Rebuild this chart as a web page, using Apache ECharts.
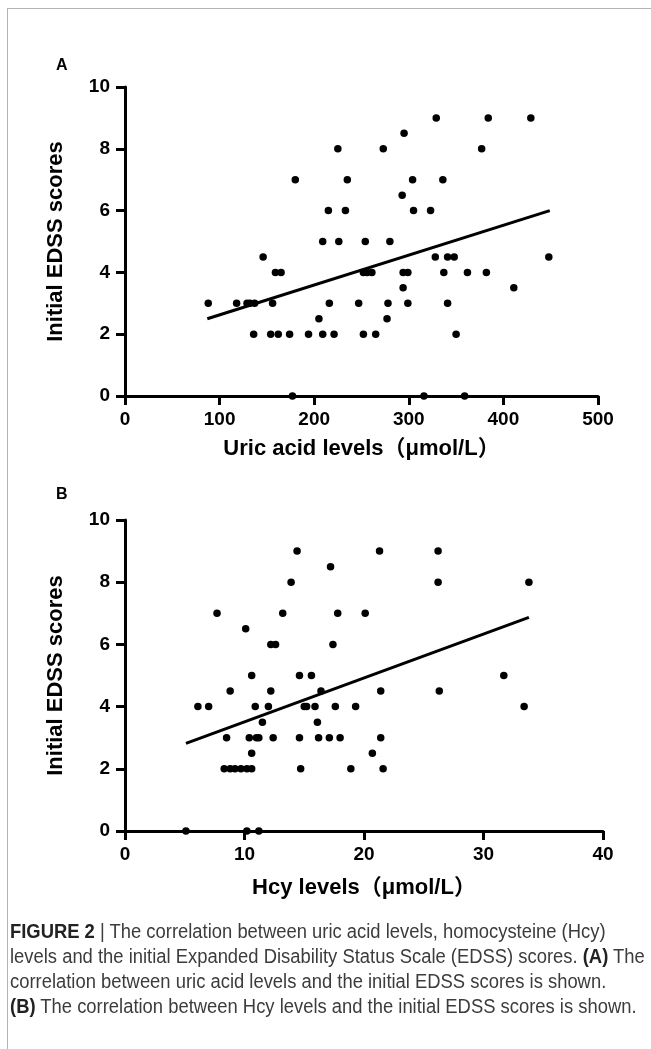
<!DOCTYPE html>
<html>
<head>
<meta charset="utf-8">
<script src="https://cdn.jsdelivr.net/npm/echarts@6/dist/echarts.min.js"></script>
<style>
  html, body { margin: 0; padding: 0; background: #fff; }
  #page { position: relative; width: 651px; height: 1049px; overflow: hidden; }
  #chart { position: absolute; left: 0; top: 0; width: 651px; height: 1049px; }
  .frame-top { position: absolute; left: 7px; top: 8px; width: 644px; height: 0; border-top: 1.5px solid #b4b4b4; }
  .frame-left { position: absolute; left: 7px; top: 8px; width: 0; height: 1041px; border-left: 1.5px solid #b4b4b4; }
  #caption {
    position: absolute; left: 10px; top: 919px;
    font-family: "Liberation Sans", Arial, sans-serif;
    font-size: 20px; line-height: 25px; color: #3c3c3c; white-space: nowrap;
    transform: scaleX(0.92); transform-origin: left top;
  }
  #caption b { color: #222; }
</style>
</head>
<body>
<div id="page">
  <div id="chart"></div>
  <div class="frame-top"></div>
  <div class="frame-left"></div>
  <div id="caption">
    <div><b>FIGURE 2</b> | The correlation between uric acid levels, homocysteine (Hcy)</div>
    <div>levels and the initial Expanded Disability Status Scale (EDSS) scores. <b>(A)</b> The</div>
    <div>correlation between uric acid levels and the initial EDSS scores is shown.</div>
    <div><b>(B)</b> The correlation between Hcy levels and the initial EDSS scores is shown.</div>
  </div>
</div>
<script>
  // panel A: uric acid (umol/L) vs initial EDSS
  const uricLevels = [88, 118, 129, 132, 137, 136, 146, 154, 156, 159, 162, 165, 174, 177, 180, 194, 205, 209, 209, 215,
    216, 221, 225, 226, 233, 235, 247, 252, 252, 254, 256, 261, 265, 273, 277, 278, 280, 294, 294, 293,
    295, 299, 299, 304, 305, 316, 323, 328, 329, 336, 337, 341, 341, 348, 350, 359, 362, 377, 382, 384,
    411, 429, 448];
  const edssA = [3, 3, 3, 3, 3, 2, 4.5, 2, 3, 4, 2, 4, 2, 0, 7, 2, 2.5, 2, 5, 6,
    3, 2, 8, 5, 6, 7, 3, 2, 4, 5, 4, 4, 2, 8, 2.5, 3, 5, 4, 3.5, 6.5,
    8.5, 4, 3, 7, 6, 0, 6, 4.5, 9, 7, 4, 4.5, 3, 4.5, 2, 0, 4, 8, 4, 9,
    3.5, 9, 4.5];
  const fitA = [[87, 2.5], [449, 6.0]];

  // panel B: Hcy (umol/L) vs initial EDSS
  const hcyLevels = [5.1, 6.1, 7.0, 7.7, 8.3, 8.5, 8.8, 8.8, 9.2, 9.7, 10.1, 10.2, 10.2, 10.4, 10.6, 10.6, 10.6, 10.9, 11.0, 11.2,
    11.2, 11.5, 12.0, 12.2, 12.2, 12.4, 12.6, 13.2, 13.9, 14.4, 14.6, 14.6, 14.7, 15.0, 15.2, 15.6, 15.9, 16.1, 16.2, 16.4,
    17.1, 17.2, 17.4, 17.6, 17.8, 18.0, 18.9, 19.3, 20.1, 20.7, 21.3, 21.4, 21.4, 21.6, 26.2, 26.2, 26.3, 31.7, 33.4, 33.8];
  const edssB = [0, 4, 4, 7, 2, 3, 2, 4.5, 2, 2, 6.5, 2, 0, 3, 2, 2.5, 5, 4, 3, 0,
    3, 3.5, 4, 4.5, 6, 3, 6, 7, 8, 9, 3, 5, 2, 4, 4, 5, 4, 3.5, 3, 4.5,
    3, 8.5, 6, 4, 7, 3, 2, 4, 7, 2.5, 9, 4.5, 3, 2, 9, 8, 4.5, 5, 4, 8];
  const fitB = [[5.1, 2.82], [33.8, 6.87]];

  const yTicks = [0, 2, 4, 6, 8, 10];

  const chart = echarts.init(document.getElementById('chart'), null, { renderer: 'canvas' });

  const font = '"Liberation Sans", Arial, "Noto Sans CJK SC", sans-serif';

  function makeX(idx, max, interval, name, gap) {
    return {
      gridIndex: idx, type: 'value', min: 0, max: max, interval: interval,
      name: name, nameLocation: 'middle', nameGap: gap,
      nameTextStyle: { fontFamily: font, fontWeight: 'bold', fontSize: 22, color: '#000' },
      axisLine: { onZero: false, lineStyle: { color: '#000', width: 3 } },
      axisTick: { length: 9, lineStyle: { color: '#000', width: 3 } },
      axisLabel: { margin: 14, fontFamily: font, fontWeight: 'bold', fontSize: 19, color: '#000' },
      splitLine: { show: false }
    };
  }
  function makeY(idx) {
    return {
      gridIndex: idx, type: 'value', min: yTicks[0], max: yTicks[yTicks.length - 1], interval: 2,
      name: 'Initial EDSS scores', nameLocation: 'middle', nameGap: 58, nameRotate: 90,
      nameTextStyle: { fontFamily: font, fontWeight: 'bold', fontSize: 22, color: '#000' },
      axisLine: { onZero: false, lineStyle: { color: '#000', width: 3 } },
      axisTick: { length: 9, lineStyle: { color: '#000', width: 3 } },
      axisLabel: { margin: 15, fontFamily: font, fontWeight: 'bold', fontSize: 19, color: '#000' },
      splitLine: { show: false }
    };
  }

  const dotStyle = { color: '#000', opacity: 1 };
  const lineStyle = { color: '#000', width: 3 };

  chart.setOption({
    animation: false,
    grid: [
      { left: 125, top: 87, width: 473, height: 309 },
      { left: 125, top: 520, width: 478, height: 311 }
    ],
    xAxis: [
      makeX(0, 500, 100, 'Uric acid levels（μmol/L）', 42),
      makeX(1, 40, 10, 'Hcy levels（μmol/L）', 46)
    ],
    yAxis: [makeY(0), makeY(1)],
    graphic: [
      { type: 'text', left: 56, top: 58, style: { text: 'A', font: 'bold 16px ' + font, fill: '#000' } },
      { type: 'text', left: 56, top: 487, style: { text: 'B', font: 'bold 16px ' + font, fill: '#000' } }
    ],
    series: [
      {
        type: 'scatter', xAxisIndex: 0, yAxisIndex: 0, symbolSize: 7.5, clip: false,
        itemStyle: dotStyle, data: uricLevels.map((v, i) => [v, edssA[i]])
      },
      {
        type: 'line', xAxisIndex: 0, yAxisIndex: 0, symbol: 'none', lineStyle: lineStyle, data: fitA
      },
      {
        type: 'scatter', xAxisIndex: 1, yAxisIndex: 1, symbolSize: 7.5, clip: false,
        itemStyle: dotStyle, data: hcyLevels.map((v, i) => [v, edssB[i]])
      },
      {
        type: 'line', xAxisIndex: 1, yAxisIndex: 1, symbol: 'none', lineStyle: lineStyle, data: fitB
      }
    ]
  });

  window.addEventListener('resize', () => chart.resize());
</script>
</body>
</html>
